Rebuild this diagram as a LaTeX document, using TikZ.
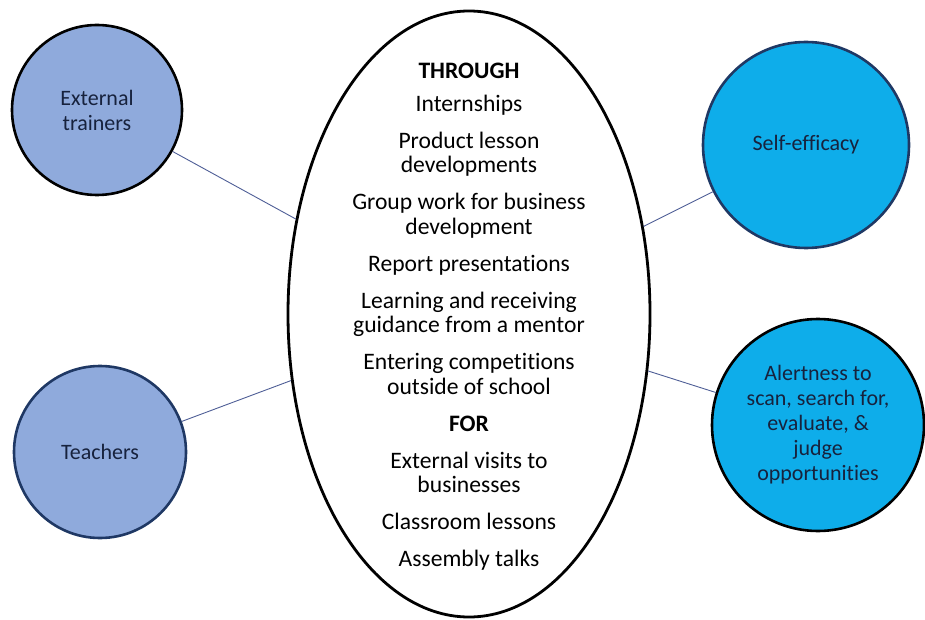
\documentclass[tikz,border=0pt]{standalone}
\usepackage{fontspec}
\setmainfont[Ligatures=NoCommon]{Carlito}
\usetikzlibrary{shapes.geometric}
\definecolor{lightblue}{HTML}{8FAADC}
\definecolor{skyblue}{HTML}{0EADEA}
\definecolor{navy}{HTML}{1F3864}
\definecolor{txtnavy}{HTML}{17223D}
\definecolor{linkblue}{HTML}{4E5E96}
\tikzset{
  bubble/.style={circle, line width=2.6pt, inner sep=0pt, align=center,
    text=txtnavy, font=\fontsize{22}{25}\selectfont},
  leftbubble/.style={bubble, fill=lightblue},
  rightbubble/.style={bubble, fill=skyblue},
  link/.style={draw=linkblue, line width=0.9pt},
  bigoval/.style={ellipse, draw=black, line width=2.8pt, inner sep=0pt, fill=white},
  ovaltext/.style={align=center, text=black, font=\fontsize{23.6}{24.5}\selectfont}
}
\begin{document}
\begin{tikzpicture}[x=1pt,y=-1pt]
\useasboundingbox (0,0) rectangle (925,620);
\node[bigoval, minimum width=362pt, minimum height=606pt] (oval) at (469,314) {};
\node[leftbubble, draw=black, minimum size=170pt] (ext) at (97,110) {External\\trainers};
\node[leftbubble, draw=navy, minimum size=172pt] (teach) at (100,452) {Teachers};
\node[rightbubble, draw=navy, minimum size=206pt] (self) at (806,145) {Self-efficacy};
\node[rightbubble, draw=black, minimum size=212pt] (alert) at (818,425) {Alertness to\\scan, search for,\\evaluate, \&\\judge\\opportunities};
\draw[link] (ext) -- (oval);
\draw[link] (teach) -- (oval);
\draw[link] (self) -- (oval);
\draw[link] (alert) -- (oval);
\node[ovaltext] (list) at (469,317) {\textbf{THROUGH}\\[8pt]
Internships\\[12.5pt]
Product lesson\\developments\\[12.5pt]
Group work for business\\development\\[12.5pt]
Report presentations\\[12.5pt]
Learning and receiving\\guidance from a mentor\\[12.5pt]
Entering competitions\\outside of school\\[12.5pt]
\textbf{FOR}\\[12.5pt]
External visits to\\businesses\\[12.5pt]
Classroom lessons\\[12.5pt]
Assembly talks};
\end{tikzpicture}
\end{document}
